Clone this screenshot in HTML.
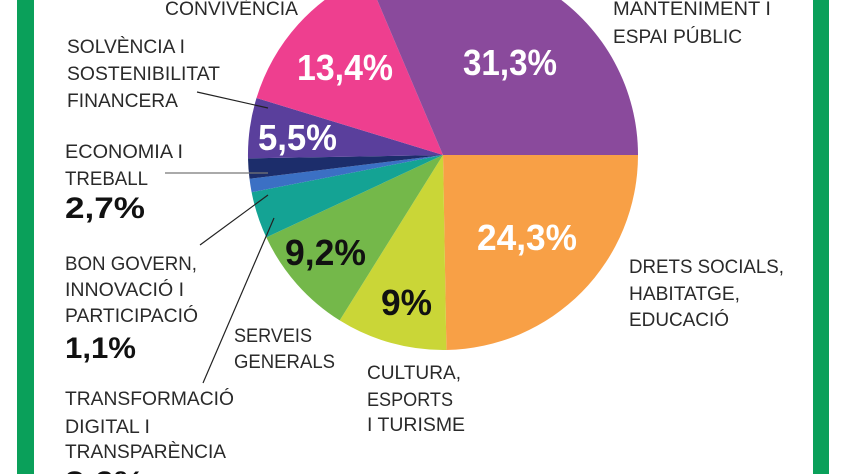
<!DOCTYPE html>
<html><head><meta charset="utf-8"><style>
html,body{margin:0;padding:0;background:#fff;width:844px;height:474px;overflow:hidden;}
svg{display:block}
.l{font-family:"Liberation Sans",sans-serif;font-size:19.5px;fill:#2a2a2a;}
.b{font-family:"Liberation Sans",sans-serif;font-weight:bold;font-size:30px;fill:#111;}
.p{font-family:"Liberation Sans",sans-serif;font-weight:bold;font-size:36px;fill:#fff;}
</style></head><body>
<svg width="844" height="474" viewBox="0 0 844 474" xmlns="http://www.w3.org/2000/svg">
<rect x="0" y="0" width="844" height="474" fill="#fff"/>
<rect x="17" y="0" width="17" height="474" fill="#0aa05a"/>
<rect x="813" y="0" width="16" height="474" fill="#0aa05a"/>
<g>
<path d="M443,155 L638,155 A195,195 0 0 1 446.4,350 Z" fill="#f8a046"/>
<path d="M443,155 L446.4,350 A195,195 0 0 1 339.7,320.4 Z" fill="#cad637"/>
<path d="M443,155 L339.7,320.4 A195,195 0 0 1 266.3,237.4 Z" fill="#74b84a"/>
<path d="M443,155 L266.3,237.4 A195,195 0 0 1 251.6,192.2 Z" fill="#14a394"/>
<path d="M443,155 L251.6,192.2 A195,195 0 0 1 249.5,178.8 Z" fill="#3b70c4"/>
<path d="M443,155 L249.5,178.8 A195,195 0 0 1 248,158.4 Z" fill="#1c2d6b"/>
<path d="M443,155 L248,158.4 A195,195 0 0 1 256.5,98 Z" fill="#5a3f9c"/>
<path d="M443,155 L256.5,98 A195,195 0 0 1 366.8,-24.5 Z" fill="#ee3f8f"/>
<path d="M443,155 L366.8,-24.5 A195,195 0 0 1 638,155 Z" fill="#8a4a9c"/>
</g>
<text class="p" x="463" y="75" textLength="94" lengthAdjust="spacingAndGlyphs">31,3%</text>
<text class="p" x="297" y="80" textLength="96" lengthAdjust="spacingAndGlyphs">13,4%</text>
<text class="p" x="258" y="150" font-size="31" textLength="79" lengthAdjust="spacingAndGlyphs">5,5%</text>
<text class="p" x="477" y="250" textLength="100" lengthAdjust="spacingAndGlyphs">24,3%</text>
<text class="p" x="285" y="265" style="fill:#111" textLength="81" lengthAdjust="spacingAndGlyphs">9,2%</text>
<text class="p" x="381" y="315" style="fill:#111" textLength="51" lengthAdjust="spacingAndGlyphs">9%</text>
<g stroke="#222" stroke-width="1.2">
<line x1="197" y1="92" x2="268" y2="108"/>
<line x1="165" y1="173" x2="268" y2="173" stroke="#777"/>
<line x1="200" y1="245" x2="268" y2="195"/>
<line x1="203" y1="383" x2="274" y2="218"/>
</g>
<g lengthAdjust="spacingAndGlyphs">
<text class="l" x="165" y="15" textLength="133" lengthAdjust="spacingAndGlyphs">CONVIVÈNCIA</text>
<text class="l" x="613" y="15" textLength="158" lengthAdjust="spacingAndGlyphs">MANTENIMENT I</text>
<text class="l" x="613" y="43" textLength="129" lengthAdjust="spacingAndGlyphs">ESPAI PÚBLIC</text>
<text class="l" x="67" y="53" textLength="118" lengthAdjust="spacingAndGlyphs">SOLVÈNCIA I</text>
<text class="l" x="67" y="80" textLength="153" lengthAdjust="spacingAndGlyphs">SOSTENIBILITAT</text>
<text class="l" x="67" y="107" textLength="111" lengthAdjust="spacingAndGlyphs">FINANCERA</text>
<text class="l" x="65" y="158" textLength="118" lengthAdjust="spacingAndGlyphs">ECONOMIA I</text>
<text class="l" x="65" y="185" textLength="83" lengthAdjust="spacingAndGlyphs">TREBALL</text>
<text class="b" x="65" y="218" textLength="80" lengthAdjust="spacingAndGlyphs">2,7%</text>
<text class="l" x="65" y="270" textLength="132" lengthAdjust="spacingAndGlyphs">BON GOVERN,</text>
<text class="l" x="65" y="296" textLength="119" lengthAdjust="spacingAndGlyphs">INNOVACIÓ I</text>
<text class="l" x="65" y="322" textLength="133" lengthAdjust="spacingAndGlyphs">PARTICIPACIÓ</text>
<text class="b" x="65" y="358" textLength="71" lengthAdjust="spacingAndGlyphs">1,1%</text>
<text class="l" x="65" y="405" textLength="169" lengthAdjust="spacingAndGlyphs">TRANSFORMACIÓ</text>
<text class="l" x="65" y="433" textLength="85" lengthAdjust="spacingAndGlyphs">DIGITAL I</text>
<text class="l" x="65" y="458" textLength="161" lengthAdjust="spacingAndGlyphs">TRANSPARÈNCIA</text>
<text class="b" x="65" y="492" textLength="80" lengthAdjust="spacingAndGlyphs">3,6%</text>
<text class="l" x="234" y="342" textLength="78" lengthAdjust="spacingAndGlyphs">SERVEIS</text>
<text class="l" x="234" y="368" textLength="101" lengthAdjust="spacingAndGlyphs">GENERALS</text>
<text class="l" x="367" y="379" textLength="94" lengthAdjust="spacingAndGlyphs">CULTURA,</text>
<text class="l" x="367" y="406" textLength="86" lengthAdjust="spacingAndGlyphs">ESPORTS</text>
<text class="l" x="367" y="431" textLength="98" lengthAdjust="spacingAndGlyphs">I TURISME</text>
<text class="l" x="629" y="273" textLength="155" lengthAdjust="spacingAndGlyphs">DRETS SOCIALS,</text>
<text class="l" x="629" y="300" textLength="111" lengthAdjust="spacingAndGlyphs">HABITATGE,</text>
<text class="l" x="629" y="326" textLength="100" lengthAdjust="spacingAndGlyphs">EDUCACIÓ</text>
</g>
</svg>
</body></html>
